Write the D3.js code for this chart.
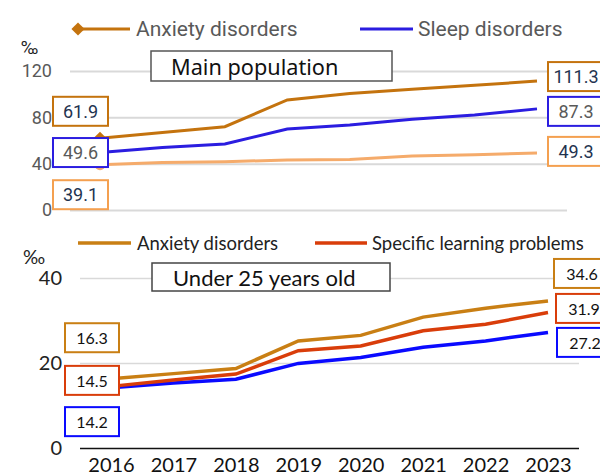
<!DOCTYPE html>
<html>
<head>
<meta charset="UTF-8">
<title>Anxiety and sleep disorders</title>
<style type="text/css">
	body { margin: 0; background: #fff; }
	svg { display: block; }
	.upper text { font-family: Roboto, "Noto Sans", sans-serif; }
	.lower text { font-family: Lato, "Noto Sans", sans-serif; }
</style>
<script src="https://cdnjs.cloudflare.com/ajax/libs/d3/7.8.5/d3.min.js"></script>
</head>
<body>
<script type="text/javascript">

// data
var years = ["2016", "2017", "2018", "2019", "2020", "2021", "2022", "2023"];

var topTicks = [0, 40, 80, 120];
var topAnxiety = [61.9, 67.0, 71.9, 95.0, 100.6, 104.2, 107.6, 111.3];
var topSleep = [49.6, 54.0, 57.0, 69.9, 73.4, 78.3, 82.0, 87.3];
var topLearning = [39.1, 41.0, 41.7, 43.2, 43.7, 46.6, 47.8, 49.3];

var botTicks = [0, 20, 40];
var botAnxiety = [16.3, 17.5, 18.7, 25.2, 26.5, 30.8, 32.9, 34.6];
var botLearning = [14.5, 16.0, 17.4, 22.9, 24.0, 27.6, 29.1, 31.9];
var botSleep = [14.2, 15.3, 16.2, 19.9, 21.3, 23.7, 25.2, 27.2];

var svg = d3.select("body").append("svg")
	.attr("width", 600)
	.attr("height", 475);

// ---------- upper panel: main population ----------
var xTop = d3.scalePoint().domain(years).range([100, 537]);
var yTop = d3.scaleLinear().domain([0, 120]).range([210, 71]);

var gTop = svg.append("g").attr("class", "upper");

var topAxis = gTop.append("g")
	.attr("transform", "translate(70,0)")
	.call(d3.axisLeft(yTop).tickValues(topTicks).tickSize(-497).tickPadding(18));
topAxis.select(".domain").remove();
topAxis.selectAll("line").attr("stroke", "#d9d9d9").attr("stroke-width", 2);
topAxis.selectAll("text").attr("fill", "#595959").style("font-size", "18px");

gTop.append("text").attr("x", 21).attr("y", 54)
	.style("font-size", "18px").attr("fill", "#222").text("‰");

var topSeries = [
	{ values: topLearning, color: "#f5ab6b", box: "#f4a050", text: "#1f3350", marker: "circle", dl: 30, dr: -1.5 },
	{ values: topSleep, color: "#2b1de0", box: "#2b1de0", text: "#595959", marker: "none", dl: 0, dr: 2.5 },
	{ values: topAnxiety, color: "#c4730e", box: "#c4730e", text: "#1f3350", marker: "diamond", dl: -27, dr: -4.5 }
];

var lineTop = d3.line()
	.x(function(d, i) { return xTop(years[i]); })
	.y(function(d) { return yTop(d); });

topSeries.forEach(function(s) {
	gTop.append("path")
		.attr("d", lineTop(s.values))
		.attr("fill", "none")
		.attr("stroke", s.color)
		.attr("stroke-width", 3);
	var px = xTop(years[0]), py = yTop(s.values[0]);
	if (s.marker == "circle") {
		gTop.append("circle").attr("cx", px).attr("cy", py).attr("r", 5.5).attr("fill", s.color);
	} else if (s.marker == "diamond") {
		gTop.append("path").attr("d", d3.symbol().type(d3.symbolDiamond2).size(110)())
			.attr("transform", "translate(" + px + "," + py + ")").attr("fill", s.color);
	}
});

function valueBox(g, x, cy, w, label, stroke, color, size) {
	g.append("rect")
		.attr("x", x).attr("y", cy - 14.5)
		.attr("width", w).attr("height", 29)
		.attr("fill", "#fff").attr("stroke", stroke).attr("stroke-width", 2);
	g.append("text")
		.attr("x", x + w / 2).attr("y", cy)
		.attr("text-anchor", "middle").attr("dominant-baseline", "central")
		.attr("fill", color).style("font-size", size)
		.text(label);
}

topSeries.forEach(function(s) {
	var first = s.values[0], last = s.values[s.values.length - 1];
	valueBox(gTop, 53, yTop(first) + s.dl, 55, first.toFixed(1), s.box, s.text, "18px");
	valueBox(gTop, 548, yTop(last) + s.dr, 56, last.toFixed(1), s.box, s.text, "18px");
});

// upper legend
gTop.append("line").attr("x1", 78).attr("x2", 130).attr("y1", 29).attr("y2", 29)
	.attr("stroke", "#c4730e").attr("stroke-width", 3);
gTop.append("path").attr("d", d3.symbol().type(d3.symbolDiamond2).size(110)())
	.attr("transform", "translate(78,29)").attr("fill", "#c4730e");
gTop.append("text").attr("x", 136).attr("y", 29).attr("dominant-baseline", "central")
	.style("font-size", "21px").attr("fill", "#595959").text("Anxiety disorders");
gTop.append("line").attr("x1", 360).attr("x2", 413).attr("y1", 29).attr("y2", 29)
	.attr("stroke", "#2b1de0").attr("stroke-width", 3);
gTop.append("text").attr("x", 418).attr("y", 29).attr("dominant-baseline", "central")
	.style("font-size", "21px").attr("fill", "#595959").text("Sleep disorders");

// title box
gTop.append("rect").attr("x", 151).attr("y", 51).attr("width", 241).attr("height", 30)
	.attr("fill", "#fff").attr("stroke", "#555").attr("stroke-width", 1.5);
gTop.append("text").attr("x", 171).attr("y", 66).attr("dominant-baseline", "central")
	.style("font-family", "'Noto Sans', sans-serif").style("font-size", "21.7px")
	.attr("fill", "#111").text("Main population");

// ---------- lower panel: under 25 ----------
var xBot = d3.scalePoint().domain(years).range([111, 548]);
var yBot = d3.scaleLinear().domain([0, 40]).range([448, 278]);

var gBot = svg.append("g").attr("class", "lower");

var botAxis = gBot.append("g")
	.attr("transform", "translate(80,0)")
	.call(d3.axisLeft(yBot).tickValues(botTicks).tickSize(-499).tickPadding(18));
botAxis.select(".domain").remove();
botAxis.selectAll("line").attr("stroke", function(d) { return d == 0 ? "#111" : "#d9d9d9"; })
	.attr("stroke-width", 1.5);
botAxis.selectAll("text").attr("fill", "#222").style("font-size", "20px");

var xAxisBot = gBot.append("g")
	.attr("transform", "translate(0,448)")
	.call(d3.axisBottom(xBot).tickSize(0).tickPadding(10));
xAxisBot.select(".domain").remove();
xAxisBot.selectAll("text").attr("fill", "#111").style("font-size", "20px");

gBot.append("text").attr("x", 23).attr("y", 264)
	.style("font-size", "19px").attr("fill", "#222").text("‰");

var botSeries = [
	{ values: botSleep, color: "#0a0aff", dl: 34, dr: 10, bx: 557 },
	{ values: botLearning, color: "#d93d0a", dl: -6, dr: -4, bx: 556 },
	{ values: botAnxiety, color: "#c97f14", dl: -41, dr: -27.5, bx: 554 }
];

var lineBot = d3.line()
	.x(function(d, i) { return xBot(years[i]); })
	.y(function(d) { return yBot(d); });

botSeries.forEach(function(s) {
	gBot.append("path")
		.attr("d", lineBot(s.values))
		.attr("fill", "none")
		.attr("stroke", s.color)
		.attr("stroke-width", 3.5);
});

botSeries.forEach(function(s) {
	var first = s.values[0], last = s.values[s.values.length - 1];
	valueBox(gBot, 65, yBot(first) + s.dl, 54, first.toFixed(1), s.color, "#111", "16px");
	valueBox(gBot, s.bx, yBot(last) + s.dr, 56, last.toFixed(1), s.color, "#111", "16px");
});

// lower legend
gBot.append("line").attr("x1", 78).attr("x2", 131).attr("y1", 243).attr("y2", 243)
	.attr("stroke", "#c97f14").attr("stroke-width", 3.5);
gBot.append("text").attr("x", 137).attr("y", 243).attr("dominant-baseline", "central")
	.style("font-size", "18.5px").attr("fill", "#222").text("Anxiety disorders");
gBot.append("line").attr("x1", 315).attr("x2", 367).attr("y1", 243).attr("y2", 243)
	.attr("stroke", "#d93d0a").attr("stroke-width", 3.5);
gBot.append("text").attr("x", 372).attr("y", 243).attr("dominant-baseline", "central")
	.style("font-size", "18.5px").attr("fill", "#222").text("Specific learning problems");

gBot.append("rect").attr("x", 152).attr("y", 263).attr("width", 238).attr("height", 28)
	.attr("fill", "#fff").attr("stroke", "#444").attr("stroke-width", 1.5);
gBot.append("text").attr("x", 173).attr("y", 277).attr("dominant-baseline", "central")
	.style("font-size", "22px").attr("fill", "#111").text("Under 25 years old");

</script>
</body>
</html>
